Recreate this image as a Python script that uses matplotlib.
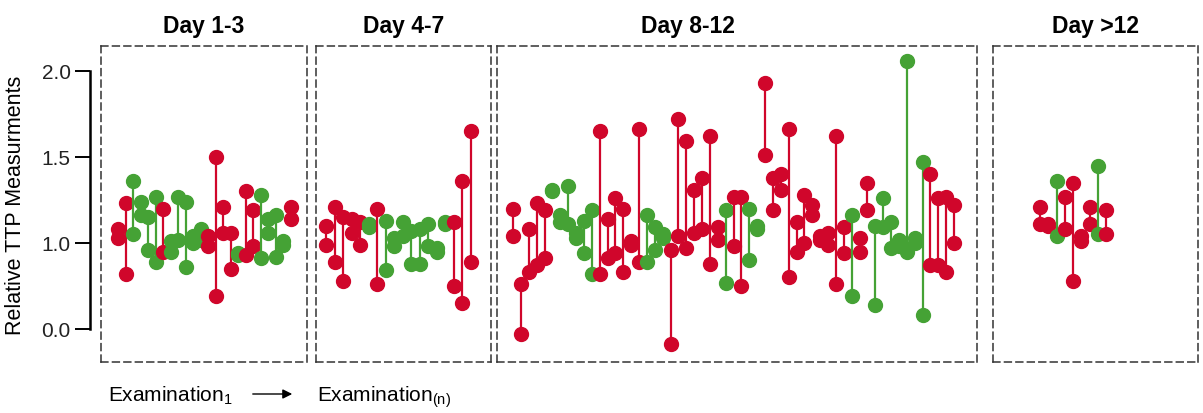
import matplotlib.pyplot as plt

plt.rcParams['font.family'] = ['Liberation Sans', 'DejaVu Sans']
plt.rcParams['mathtext.fontset'] = 'custom'
plt.rcParams['mathtext.rm'] = 'Liberation Sans'

RED = '#d0062b'
GREEN = '#45a235'

titles = ["Day 1-3", "Day 4-7", "Day 8-12", "Day >12"]

# R = red, G = green, one letter per patient
day1_3_colors = "RRGGGGRGGGGGRRRRGRRGGGGR"
day1_3_values = [
    [1.08, 1.03], [1.23, 0.82], [1.36, 1.05], [1.24, 1.16], [1.15, 0.96],
    [1.27, 0.89], [1.20, 0.95], [1.01, 0.95], [1.27, 1.02], [1.24, 0.86],
    [1.04, 1.00], [1.08, 1.02], [1.04, 0.98], [1.50, 0.69], [1.21, 1.06],
    [1.06, 0.85], [0.94, 0.93], [1.30, 0.93], [1.19, 0.98], [1.28, 0.91],
    [1.14, 1.06], [1.16, 0.92], [1.01, 0.99], [1.21, 1.14],
]

day4_7_colors = "RRRRRGRGGGGGGGGRRR"
day4_7_values = [
    [1.10, 0.99], [1.21, 0.89], [1.15, 0.78], [1.14, 1.06], [1.12, 0.99],
    [1.11, 1.09], [1.20, 0.76], [1.13, 0.84], [1.03, 0.98], [1.12, 1.04],
    [1.07, 0.88], [1.08, 0.88], [1.11, 0.98], [0.97, 0.95], [1.12, 1.11],
    [1.12, 0.75], [1.36, 0.65], [1.65, 0.89],
]

day8_12_colors = "RRRRRGGGGGGRRRRRRGGGRRRRRRRGRRGGRRRRRRRRRRRGRRGGGGGGGRRRR"
day8_12_values = [
    [1.20, 1.04], [0.76, 0.47], [1.08, 0.83], [1.23, 0.87], [1.19, 0.91],
    [1.31, 1.30], [1.16, 1.12], [1.33, 1.11], [1.06, 1.03], [1.13, 0.94],
    [1.19, 0.82], [1.65, 0.82], [1.14, 0.91], [1.26, 0.94], [1.20, 0.83],
    [1.01, 0.99], [1.66, 0.89], [1.16, 0.89], [1.09, 0.96], [1.05, 1.03],
    [0.96, 0.41], [1.72, 1.04], [1.59, 0.97], [1.31, 1.06], [1.38, 1.08],
    [1.62, 0.88], [1.09, 1.02], [1.19, 0.77], [1.27, 0.98], [1.27, 0.75],
    [1.20, 0.90], [1.10, 1.08], [1.93, 1.51], [1.38, 1.19], [1.40, 1.31],
    [1.66, 0.80], [1.12, 0.95], [1.28, 1.00], [1.22, 1.16], [1.04, 1.02],
    [1.06, 0.99], [1.62, 0.76], [1.09, 0.94], [1.16, 0.69], [1.03, 0.95],
    [1.35, 1.19], [1.10, 0.64], [1.26, 1.09], [1.12, 0.97], [1.02, 0.98],
    [2.06, 0.95], [1.03, 1.00], [1.47, 0.58], [1.40, 0.87], [1.26, 0.87],
    [1.27, 0.83], [1.22, 1.00],
]

day12_colors = "RRGRRRRGR"
day12_values = [
    [1.21, 1.11], [1.11, 1.10], [1.36, 1.04], [1.27, 1.08], [1.35, 0.78],
    [1.04, 1.01], [1.21, 1.11], [1.45, 1.05], [1.19, 1.05],
]

ytick_pos = [0.5, 1.0, 1.5, 2.0]
ytick_labels = ["0.0", "1.0", "1.5", "2.0"]
ylim = (0.308, 2.145)

panels = [
    (day1_3_colors, day1_3_values),
    (day4_7_colors, day4_7_values),
    (day8_12_colors, day8_12_values),
    (day12_colors, day12_values),
]

# box left/right, first/last dot in pixels, title centre (axes fraction)
layout = [(101, 307, 118, 291, 0.5), (316, 491, 326, 471, 0.5),
          (497, 977, 513, 954, 0.398), (993, 1198, 1040, 1106, 0.5)]

W, H = 1203, 414
TOP, BOT = 47, 363


def frac(x0, x1):
    return [x0 / W, 1 - BOT / H, (x1 - x0) / W, (BOT - TOP) / H]


fig = plt.figure(figsize=(W / 100, H / 100), dpi=100)

for (cols, vals), title, (x0, x1, first, last, tx) in zip(panels, titles, layout):
    ax = fig.add_axes(frac(x0, x1))
    n = len(vals)
    for i, (c, v) in enumerate(zip(cols, vals)):
        color = RED if c == "R" else GREEN
        ax.plot([i] * len(v), v, '-', color=color, lw=1.6,
                marker='o', ms=10, mec=color, mfc=color)
    s = (last - first) / (n - 1)
    ax.set_xlim(-(first - x0) / s, (n - 1) + (x1 - last) / s)
    ax.set_ylim(*ylim)
    ax.set_xticks([])
    ax.set_yticks([])
    for sp in ax.spines.values():
        sp.set_linestyle((0, (4.5, 3)))
        sp.set_color('#333333')
        sp.set_linewidth(1.1)
    t = ax.set_title(title, fontsize=16.5, fontweight='bold', pad=10)
    t.set_x(tx)

# y axis on its own
yax = fig.add_axes([90 / W, 1 - BOT / H, 0.001, (BOT - TOP) / H])
yax.set_ylim(*ylim)
yax.set_xticks([])
for k in ['top', 'right', 'bottom']:
    yax.spines[k].set_visible(False)
yax.patch.set_visible(False)
yax.spines['left'].set_bounds(ytick_pos[0], ytick_pos[-1])
yax.spines['left'].set_linewidth(1.8)
yax.set_yticks(ytick_pos)
yax.set_yticklabels(ytick_labels, fontsize=15, color='#222222')
yax.tick_params(axis='y', length=11, width=1.4, pad=3)
yax.set_ylabel("Relative TTP Measurments", fontsize=15.5, labelpad=11)

fig.text(108 / W, 1 - 401 / H, r'Examination$_\mathrm{1}$', fontsize=15,
         va='baseline')
fig.text(317 / W, 1 - 401 / H, r'Examination$_\mathrm{(n)}$', fontsize=15,
         va='baseline')
yax.annotate('', xy=(295 / W, 1 - 395 / H), xytext=(250 / W, 1 - 395 / H),
             xycoords='figure fraction', textcoords='figure fraction',
             arrowprops=dict(arrowstyle='-|>', color='black', lw=1,
                             mutation_scale=14),
             annotation_clip=False)

fig.savefig('out.png', dpi=100)
